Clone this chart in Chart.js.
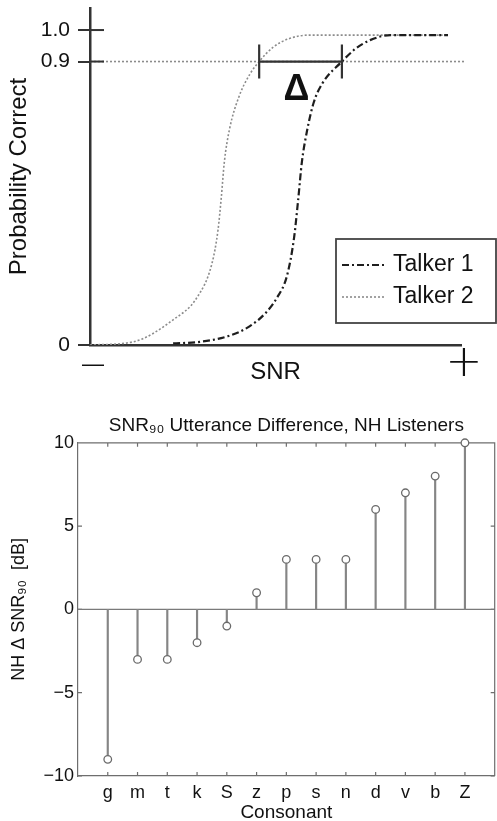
<!DOCTYPE html>
<html>
<head>
<meta charset="utf-8">
<script src="https://cdn.jsdelivr.net/npm/chart.js@4.4.1/dist/chart.umd.min.js"></script>
<style>
  html, body { margin: 0; padding: 0; background: #fff; overflow: hidden; }
  #wrap { position: relative; width: 497px; height: 821px; overflow: hidden; }
  .box { position: absolute; left: 0; }
  #topBox { top: 0; width: 497px; height: 390px; }
  #bottomBox { top: 390px; width: 500px; height: 431px; }
</style>
</head>
<body>
<div id="wrap">
  <div class="box" id="topBox"><canvas id="psychChart"></canvas></div>
  <div class="box" id="bottomBox"><canvas id="stemChart"></canvas></div>
</div>
<script>
// --- top panel: schematic psychometric curves (SNR in arbitrary units 0..100) ---
const snrTalker1 = [22.4, 29.6, 37.7, 43.1, 47.2, 50.4, 53.1, 55.0, 56.1, 57.1, 58.5, 60.3, 62.6, 67.9, 71.5, 75.5, 81.0, 96.5];
const probTalker1 = [0.005, 0.01, 0.03, 0.06, 0.10, 0.15, 0.22, 0.34, 0.46, 0.58, 0.68, 0.77, 0.83, 0.90, 0.94, 0.968, 0.984, 0.984];
const snrTalker2 = [0, 11.6, 22.4, 28.8, 32.9, 34.5, 35.4, 36.2, 37.6, 40.2, 43.1, 45.6, 49.3, 53.5, 59.0, 96.5];
const probTalker2 = [0, 0.01, 0.08, 0.15, 0.26, 0.365, 0.47, 0.58, 0.685, 0.79, 0.86, 0.90, 0.945, 0.972, 0.984, 0.984];
const criterionLevel = 0.9;
const criterionSpan = [0, 101];
const deltaSpan = [45.6, 67.9];
const probTicks = [0, 0.9, 1.0];
const snrEndLabels = ['\u2014', '+'];

// --- bottom panel: SNR90 difference per consonant ---
const consonants = ['g', 'm', 't', 'k', 'S', 'z', 'p', 's', 'n', 'd', 'v', 'b', 'Z'];
const deltaSnr90 = [-9, -3, -3, -2, -1, 1, 3, 3, 3, 6, 7, 8, 10];
const dbTicks = [-10, -5, 0, 5, 10];
const consonantRange = [-1, 13];

Chart.defaults.font.family = '"Liberation Sans", Arial, sans-serif';
Chart.defaults.color = '#111';

const toXY = (xs, ys) => xs.map((x, i) => ({ x: x, y: ys[i] }));

// cross ticks, delta bracket and boxed legend for the top panel
const psychDecor = {
    id: 'psychDecor',
    afterDatasetsDraw(chart) {
        const { ctx, chartArea, scales: { x, y } } = chart;
        ctx.save();
        ctx.strokeStyle = '#333';
        ctx.lineWidth = 2;
        probTicks.filter(v => v > 0).forEach(v => {
            const py = y.getPixelForValue(v);
            ctx.beginPath();
            ctx.moveTo(chartArea.left, py);
            ctx.lineTo(chartArea.left + 14, py);
            ctx.stroke();
        });

        const x1 = x.getPixelForValue(deltaSpan[0]);
        const x2 = x.getPixelForValue(deltaSpan[1]);
        const yc = y.getPixelForValue(criterionLevel);
        ctx.lineWidth = 2.2;
        ctx.beginPath();
        ctx.moveTo(x1, yc); ctx.lineTo(x2, yc);
        ctx.moveTo(x1, yc - 17); ctx.lineTo(x1, yc + 17);
        ctx.moveTo(x2, yc - 17); ctx.lineTo(x2, yc + 17);
        ctx.stroke();
        ctx.fillStyle = '#111';
        ctx.font = 'bold 36px "Liberation Sans", Arial, sans-serif';
        ctx.textAlign = 'center';
        ctx.textBaseline = 'alphabetic';
        ctx.fillText('\u0394', (x1 + x2) / 2 - 4, yc + 38);

        // legend box
        const lx = chartArea.right - 125, ly = chartArea.bottom - 106, lw = 160, lh = 84;
        ctx.fillStyle = '#fff';
        ctx.fillRect(lx, ly, lw, lh);
        ctx.strokeStyle = '#444';
        ctx.lineWidth = 1.8;
        ctx.strokeRect(lx, ly, lw, lh);
        chart.data.datasets.filter(d => d.label).forEach((ds, i) => {
            const ey = ly + 26 + i * 32;
            ctx.strokeStyle = ds.borderColor;
            ctx.lineWidth = ds.borderWidth;
            ctx.setLineDash(ds.borderDash || []);
            ctx.beginPath();
            ctx.moveTo(lx + 6, ey);
            ctx.lineTo(lx + 49, ey);
            ctx.stroke();
            ctx.setLineDash([]);
            ctx.fillStyle = '#111';
            ctx.font = '23px "Liberation Sans", Arial, sans-serif';
            ctx.textAlign = 'left';
            ctx.textBaseline = 'middle';
            ctx.fillText(ds.label, lx + 57, ey);
        });
        ctx.restore();
    }
};

// MATLAB style box with inward ticks for the bottom panel
const stemFrame = {
    id: 'stemFrame',
    beforeDatasetsDraw(chart) {
        const { ctx, chartArea: a, scales: { x, y } } = chart;
        ctx.save();
        ctx.strokeStyle = '#6e6e6e';
        ctx.lineWidth = 1.2;
        ctx.beginPath();
        ctx.moveTo(a.left, a.top);
        ctx.lineTo(a.right, a.top);
        ctx.lineTo(a.right, a.bottom);
        x.ticks.forEach(t => {
            const px = x.getPixelForValue(t.value);
            ctx.moveTo(px, a.top); ctx.lineTo(px, a.top + 4);
            ctx.moveTo(px, a.bottom); ctx.lineTo(px, a.bottom - 4);
        });
        y.ticks.forEach(t => {
            const py = y.getPixelForValue(t.value);
            ctx.moveTo(a.left, py); ctx.lineTo(a.left + 4, py);
            ctx.moveTo(a.right, py); ctx.lineTo(a.right - 4, py);
        });
        ctx.stroke();
        ctx.restore();
    }
};

new Chart(document.getElementById('psychChart'), {
    type: 'line',
    data: {
        datasets: [
            {
                label: 'Talker 1',
                data: toXY(snrTalker1, probTalker1),
                borderColor: '#1e1e1e',
                borderWidth: 2.2,
                borderDash: [7, 3, 2, 3],
                pointRadius: 0,
                cubicInterpolationMode: 'monotone'
            },
            {
                label: 'Talker 2',
                data: toXY(snrTalker2, probTalker2),
                borderColor: '#8c8c8c',
                borderWidth: 1.6,
                borderDash: [2, 2],
                pointRadius: 0,
                cubicInterpolationMode: 'monotone'
            },
            {
                label: '',
                data: criterionSpan.map(v => ({ x: v, y: criterionLevel })),
                borderColor: '#8c8c8c',
                borderWidth: 1.6,
                borderDash: [2, 2],
                pointRadius: 0,
                clip: false
            }
        ]
    },
    options: {
        responsive: true,
        maintainAspectRatio: false,
        animation: false,
        layout: { padding: { top: 8, right: 36, bottom: 0, left: 0 } },
        plugins: { legend: { display: false }, tooltip: { enabled: false } },
        scales: {
            x: {
                type: 'linear',
                min: 0,
                max: 100,
                afterBuildTicks: s => { s.ticks = [{ value: 0 }, { value: 100 }]; },
                afterFit: s => { s.height = 45; s.paddingLeft = 0; s.paddingRight = 0; },
                grid: { display: false, drawTicks: false },
                border: { color: '#333', width: 2.5 },
                ticks: {
                    callback: (v, i) => snrEndLabels[i],
                    font: c => c.index === 1
                        ? { family: '"DejaVu Sans", sans-serif', size: 44, weight: 200, lineHeight: '28px' }
                        : { size: 22, lineHeight: '28px' },
                    color: '#111',
                    padding: 6,
                    labelOffset: 3,
                    maxRotation: 0
                },
                title: { display: true, text: 'SNR', font: { size: 24 }, color: '#111', padding: { top: 0, bottom: 3 } }
            },
            y: {
                type: 'linear',
                min: 0,
                max: 1.07,
                afterBuildTicks: s => { s.ticks = probTicks.map(v => ({ value: v })); },
                afterFit: s => { s.width = 90; s.paddingTop = 0; s.paddingBottom = 0; },
                grid: { display: true, drawOnChartArea: false, drawTicks: true, tickLength: 12, color: '#333', lineWidth: 2 },
                border: { color: '#333', width: 2.5 },
                ticks: {
                    callback: v => (v === 0 ? '0' : v.toFixed(1)),
                    font: { size: 21 },
                    color: '#111',
                    padding: 8
                },
                title: { display: true, text: 'Probability Correct', font: { size: 24 }, color: '#111', padding: { top: 5 } }
            }
        }
    },
    plugins: [psychDecor]
});

const stems = toXY(consonants.map((c, i) => i), deltaSnr90);

new Chart(document.getElementById('stemChart'), {
    type: 'bar',
    data: {
        datasets: [
            {
                type: 'line',
                data: consonantRange.map(v => ({ x: v, y: 0 })),
                borderColor: '#7a7a7a',
                borderWidth: 1.3,
                pointRadius: 0,
                order: 3
            },
            {
                type: 'bar',
                data: stems,
                backgroundColor: '#858585',
                barThickness: 1.5,
                order: 2
            },
            {
                type: 'scatter',
                data: stems,
                pointRadius: 3.8,
                pointBorderWidth: 1.3,
                pointBorderColor: '#6a6a6a',
                pointBackgroundColor: '#fff',
                clip: false,
                order: 1
            }
        ]
    },
    options: {
        responsive: true,
        maintainAspectRatio: false,
        animation: false,
        layout: { padding: { top: 0, right: 1, bottom: 0, left: 0 } },
        plugins: {
            legend: { display: false },
            tooltip: { enabled: false },
            title: {
                display: true,
                text: 'SNR\u2089\u2080 Utterance Difference, NH Listeners',
                fullSize: false,
                font: { size: 19, weight: 'normal' },
                color: '#111',
                padding: { top: 24, bottom: 6 }
            }
        },
        scales: {
            x: {
                type: 'linear',
                min: consonantRange[0],
                max: consonantRange[1],
                offset: false,
                afterBuildTicks: s => { s.ticks = consonants.map((c, i) => ({ value: i })); },
                afterFit: s => { s.height = 45; },
                grid: { display: false, drawTicks: false },
                border: { color: '#6e6e6e', width: 1.2 },
                ticks: {
                    callback: v => consonants[v],
                    font: { size: 18 },
                    color: '#111',
                    padding: 6,
                    maxRotation: 0,
                    autoSkip: false
                },
                title: { display: true, text: 'Consonant', font: { size: 19 }, color: '#111', padding: { top: 0, bottom: -3 } }
            },
            y: {
                type: 'linear',
                min: -10,
                max: 10,
                afterBuildTicks: s => { s.ticks = dbTicks.map(v => ({ value: v })); },
                afterFit: s => { s.width = 78; },
                grid: { display: false, drawTicks: false },
                border: { color: '#6e6e6e', width: 1.2 },
                ticks: {
                    callback: v => (v < 0 ? '\u2212' + Math.abs(v) : String(v)),
                    font: { size: 18 },
                    color: '#111',
                    padding: 4
                },
                title: { display: true, text: 'NH \u0394 SNR\u2089\u2080  [dB]', font: { size: 18 }, color: '#111', padding: { top: 8 } }
            }
        }
    },
    plugins: [stemFrame]
});
</script>
</body>
</html>
